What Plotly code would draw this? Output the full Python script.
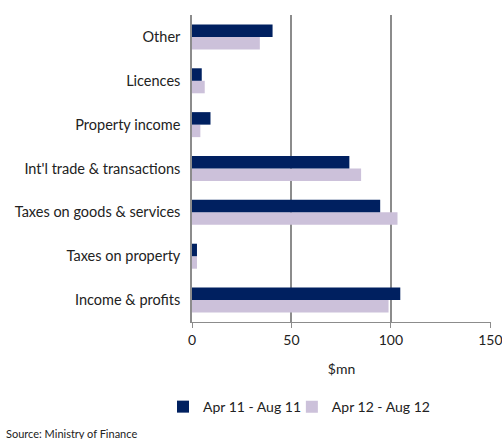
import plotly.graph_objects as go

categories = ["Income & profits", "Taxes on property", "Taxes on goods & services",
              "Int'l trade & transactions", "Property income", "Licences", "Other"]
apr11_aug11 = [104.7, 2.5, 94.6, 79.1, 9.3, 4.9, 40.5]
apr12_aug12 = [98.8, 2.5, 103.3, 85.0, 4.2, 6.4, 34.1]

font = "Lato, 'Open Sans', sans-serif"

fig = go.Figure()
# plotly draws the later trace on top in horizontal groups, so add the light one first
fig.add_trace(go.Bar(y=categories, x=apr12_aug12, orientation="h", name="Apr 12 - Aug 12",
                     marker=dict(color="#CCC1DA", line=dict(width=0)), legend="legend2"))
fig.add_trace(go.Bar(y=categories, x=apr11_aug11, orientation="h", name="Apr 11 - Aug 11",
                     marker=dict(color="#002060", line=dict(width=0)), legend="legend"))

leg = dict(orientation="h", xanchor="left", y=-0.277, yanchor="middle",
           itemwidth=30, font=dict(size=14), bgcolor="rgba(0,0,0,0)")

fig.update_layout(
    width=502, height=439,
    barmode="group", bargap=0.43, bargroupgap=0,
    plot_bgcolor="white", paper_bgcolor="white",
    margin=dict(l=192, r=11, t=15, b=117),
    font=dict(family=font, size=14, color="#222"),
    xaxis=dict(range=[0, 150.3], tickvals=[0, 50, 100, 150], showgrid=True,
               gridcolor="#8c8c8c", gridwidth=1.5, showline=True, linecolor="#8c8c8c",
               ticks="outside", ticklen=5, tickcolor="#8c8c8c", zeroline=False,
               automargin=False, ticklabeloverflow="allow",
               title=dict(text="$mn", standoff=17, font=dict(size=14))),
    yaxis=dict(showline=True, linecolor="#8c8c8c", linewidth=1.5, ticks="",
               ticklabelstandoff=7, showgrid=False, automargin=False,
               tickfont=dict(size=14.5)),
    legend=dict(leg, x=-0.097),
    legend2=dict(leg, x=0.334),
    showlegend=True,
)

fig.add_annotation(text="Source: Ministry of Finance", xref="paper", yref="paper",
                   x=-0.628, y=-0.362, xanchor="left", yanchor="middle",
                   showarrow=False, font=dict(size=11))

# drop the default 8px body margin so the figure sits flush in the window
fig.write_html("out.html", config={"displayModeBar": False},
               post_script="document.body.style.margin='0';")
